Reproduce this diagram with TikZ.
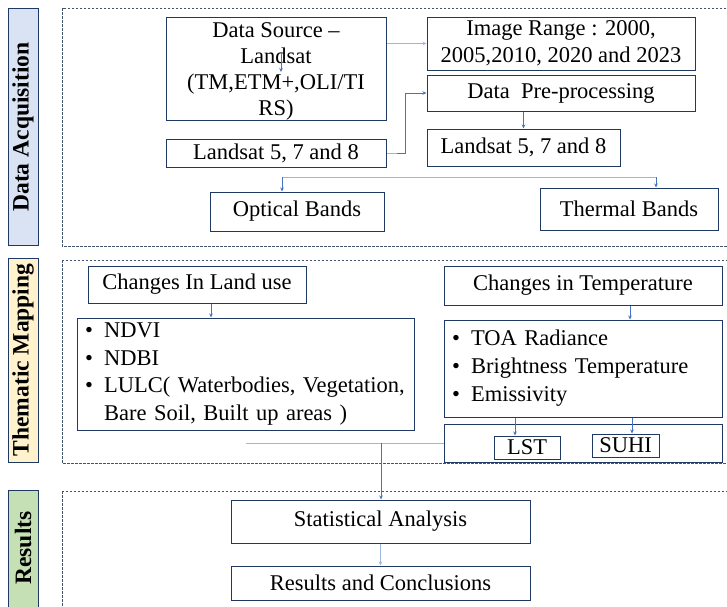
\documentclass[tikz,border=0pt]{standalone}
\usepackage{fontspec}
\setmainfont{Liberation Serif}
\usetikzlibrary{arrows.meta,calc}
\definecolor{navy}{HTML}{203864}
\definecolor{arrblue}{HTML}{4472C4}
\definecolor{lightarr}{HTML}{9DB6E0}
\definecolor{frame}{HTML}{44546A}
\definecolor{dafill}{HTML}{DAE3F3}
\definecolor{tmfill}{HTML}{FFF2CC}
\definecolor{rsfill}{HTML}{C5E0B4}
\tikzset{
  box/.style={draw=navy, line width=1pt, fill=white, inner sep=0pt, align=center,
    font=\fontsize{22.5}{27}\selectfont},
  listbox/.style={box, align=left, inner xsep=8pt},
  arr/.style={draw=arrblue, line width=0.8pt, -{Stealth[length=4pt,width=3.5pt]}},
  larr/.style={draw=lightarr, line width=0.8pt, -{Stealth[length=4pt,width=3.5pt]}},
  lline/.style={draw=lightarr, line width=0.8pt},
  phase/.style={draw=frame, dashed, dash pattern=on 2.5pt off 1.5pt, line width=0.6pt},
  bar/.style={draw=navy, line width=0.8pt},
  bartext/.style={rotate=90, font=\fontsize{23.5}{26}\selectfont\bfseries, text=black}
}
\begin{document}
\begin{tikzpicture}[x=1pt,y=-1pt]
\useasboundingbox (0,0) rectangle (727,606);
% phase bars
\draw[bar, fill=dafill] (8,8) rectangle (38,245);
\node[bartext] (lda) at (23,127) {Data Acquisition};
\draw[bar, fill=tmfill] (8,258) rectangle (38,462);
\node[bartext] (ltm) at (23,360) {Thematic Mapping};
\draw[bar, fill=rsfill] (8,490) rectangle (38,612);
\node[bartext] (lrs) at (23,548) {Results};
% dashed frames
\draw[phase] (62,8) rectangle (730,246);
\draw[phase] (62,260) rectangle (730,463);
\draw[phase] (62,491) rectangle (730,612);
% data acquisition
\node[box, minimum width=220, minimum height=103] (ds) at (276,68.5) {};
\node[font=\fontsize{22.5}{26}\selectfont, align=center, inner sep=0pt] (dst) at (276,71) {Data Source --\\Landsat\\(TM,ETM+,OLI/TI\\RS)};
\node[box, minimum width=268, minimum height=53] (ir) at (561,43.5) {Image Range : 2000,\\2005,2010, 2020 and 2023};
\node[box, minimum width=268, minimum height=36] (pp) at (561,93) {Data\ \ Pre-processing};
\node[box, minimum width=220, minimum height=28] (ll) at (276,153) {Landsat 5, 7 and 8};
\node[box, minimum width=193, minimum height=37] (lr) at (523.5,147.5) {Landsat 5, 7 and 8};
\node[box, minimum width=174, minimum height=39] (ob) at (297,211.5) {Optical Bands};
\node[box, minimum width=178, minimum height=42] (tb) at (629,209) {Thermal Bands};
% thematic mapping
\node[box, minimum width=218, minimum height=37] (cl) at (197,284.5) {Changes In Land use};
\node[listbox, minimum width=337, minimum height=112, text width=321, font=\fontsize{22.5}{27.7}\selectfont] (nd) at (245.5,374)
 {\textbullet\enspace NDVI\\\textbullet\enspace NDBI\\\textbullet\enspace LULC( Waterbodies, Vegetation,\\\phantom{\textbullet\enspace}Bare Soil, Built up areas )};
\node[box, minimum width=278, minimum height=39] (ct) at (583,285.5) {Changes in Temperature};
\node[listbox, minimum width=278, minimum height=97, text width=262, font=\fontsize{22.5}{28}\selectfont] (toa) at (583,368.5)
 {\textbullet\enspace TOA Radiance\\\textbullet\enspace Brightness Temperature\\\textbullet\enspace Emissivity};
\node[box, minimum width=278, minimum height=38] (ls) at (583,443) {};
\node[box, minimum width=66, minimum height=23] (lst) at (527,447.5) {LST};
\node[box, minimum width=67, minimum height=23] (suhi) at (625.5,445.5) {SUHI};
% results
\node[box, minimum width=299, minimum height=43] (sa) at (380.5,521.5) {Statistical Analysis};
\node[box, minimum width=299, minimum height=34] (rc) at (380.5,583) {Results and Conclusions};
% connectors
\draw[larr] (ir.west -| ds.east) -- (ir.west);
\coordinate (dsa) at (281,53);
\draw[arr] (dsa) -- ++(0,19);
\draw[lline] (ll.east) -- ++(10,0);
\draw[arr] ([xshift=10pt]ll.east) -- ++(9,0) |- (pp.west);
\draw[arr] (pp.south -| lr.north) -- (lr.north);
\coordinate (bl) at (282,177);
\coordinate (br) at (656,177);
\draw[lline] (bl) -- (br);
\draw[arr] (bl) -- (bl |- ob.north);
\draw[arr] (br) -- (br |- tb.north);
\draw[arr] ([xshift=14pt]cl.south) -- ([xshift=14pt]cl.south |- nd.north);
\draw[arr] ([xshift=47pt]ct.south) -- ([xshift=47pt]ct.south |- toa.north);
\draw[arr] ([xshift=-12pt]lst.north |- toa.south) -- ([xshift=-12pt]lst.north);
\draw[arr] ([xshift=6.5pt]suhi.north |- toa.south) -- ([xshift=6.5pt]suhi.north);
\coordinate (jl) at (246,443);
\coordinate (jm) at (381,443);
\draw[lline] (ls.west) -- (jl);
\draw[arr] (jm) -- (jm |- sa.north);
\draw[larr] (sa.south -| rc.north) -- (rc.north);
\end{tikzpicture}
\end{document}
